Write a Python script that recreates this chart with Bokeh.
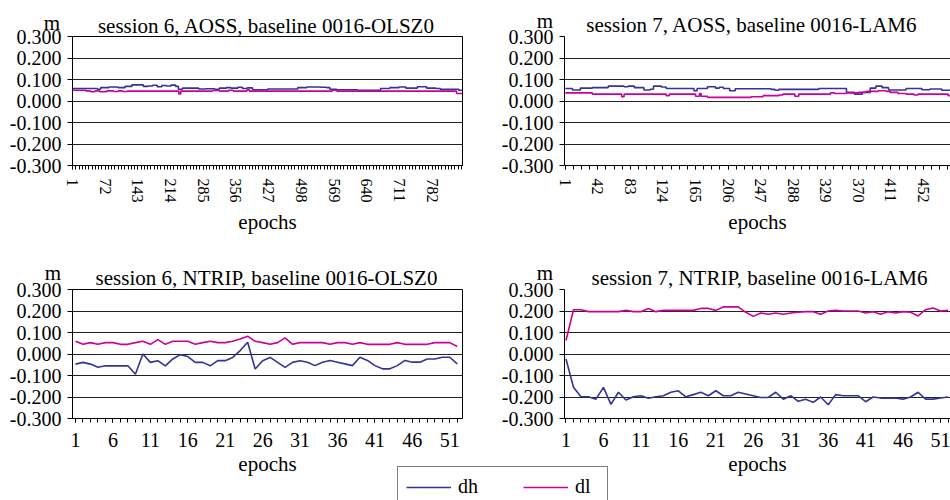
from bokeh.plotting import figure
from bokeh.layouts import column, row
from bokeh.models import (FixedTicker, NumeralTickFormatter, Range1d, Label,
                          Legend, LegendItem)
from bokeh.embed import file_html
from bokeh.resources import INLINE

# ---------------- data ----------------
Y_TICKS = [-0.3, -0.2, -0.1, 0.0, 0.1, 0.2, 0.3]

# session 6, AOSS, baseline 0016-OLSZ0
TL_TICKS = [1, 72, 143, 214, 285, 356, 427, 498, 569, 640, 711, 782]
TL_DH_EPOCH = [1, 30, 55, 62, 80, 100, 115, 130, 150, 155, 165, 175, 185, 195, 205, 215, 225, 231, 240, 250,
               270, 275, 290, 310, 320, 335, 345, 360, 370, 380, 392, 420, 425, 460, 490, 510, 540, 553, 560, 575,
               620, 660, 670, 690, 710, 725, 740, 750, 765, 770, 790, 800, 830, 840, 848]
TL_DH = [0.058, 0.058, 0.055, 0.062, 0.065, 0.062, 0.068, 0.075, 0.075, 0.068, 0.070, 0.073, 0.066, 0.072, 0.070,
         0.074, 0.068, 0.055, 0.060, 0.060, 0.060, 0.056, 0.057, 0.055, 0.060, 0.062, 0.060, 0.064, 0.058, 0.061,
         0.052, 0.052, 0.056, 0.056, 0.062, 0.065, 0.064, 0.062, 0.055, 0.052, 0.050, 0.050, 0.058, 0.062, 0.065,
         0.060, 0.060, 0.066, 0.066, 0.060, 0.058, 0.054, 0.055, 0.050, 0.050]
TL_DL_EPOCH = [1, 20, 30, 40, 50, 60, 75, 90, 100, 110, 120, 230, 232, 236, 300, 305, 320, 340, 350, 380, 385,
               560, 565, 575, 830, 835, 848]
TL_DL = [0.050, 0.050, 0.047, 0.043, 0.047, 0.043, 0.047, 0.044, 0.047, 0.044, 0.046, 0.046, 0.033, 0.046, 0.046,
         0.049, 0.046, 0.050, 0.046, 0.052, 0.046, 0.046, 0.050, 0.046, 0.046, 0.035, 0.035]

# session 7, AOSS, baseline 0016-LAM6
TR_TICKS = [1, 42, 83, 124, 165, 206, 247, 288, 329, 370, 411, 452]
TR_DH_EPOCH = [1, 10, 20, 35, 55, 75, 80, 88, 100, 108, 112, 122, 128, 160, 163, 167, 180, 190, 195, 200,
               208, 215, 260, 265, 270, 320, 350, 355, 365, 375, 385, 392, 400, 408, 420, 430, 450, 460, 475, 486]
TR_DH = [0.058, 0.051, 0.060, 0.062, 0.069, 0.066, 0.069, 0.062, 0.051, 0.055, 0.069, 0.065, 0.058, 0.058, 0.048,
         0.058, 0.066, 0.060, 0.064, 0.058, 0.048, 0.057, 0.054, 0.050, 0.054, 0.058, 0.058, 0.040, 0.032, 0.040,
         0.060, 0.069, 0.062, 0.051, 0.051, 0.058, 0.052, 0.056, 0.050, 0.048]
TR_DL_EPOCH = [1, 35, 70, 72, 75, 125, 128, 132, 160, 165, 170, 172, 180, 230, 235, 250, 270, 275, 288, 290,
               295, 330, 335, 340, 355, 370, 380, 395, 405, 410, 420, 430, 440, 445, 480, 483, 486]
TR_DL = [0.038, 0.032, 0.032, 0.020, 0.032, 0.032, 0.025, 0.032, 0.032, 0.022, 0.035, 0.022, 0.017, 0.017, 0.020,
         0.025, 0.028, 0.032, 0.032, 0.022, 0.032, 0.032, 0.038, 0.035, 0.038, 0.040, 0.045, 0.048, 0.045, 0.040,
         0.035, 0.032, 0.028, 0.032, 0.032, 0.025, 0.030]

# NTRIP sessions (one value per epoch)
B_TICKS = [1, 6, 11, 16, 21, 26, 31, 36, 41, 46, 51]
BL_EPOCH = list(range(1, 53))
BL_DH = [-0.047, -0.039, -0.047, -0.062, -0.055, -0.055, -0.055, -0.055, -0.094, 0.000,
         -0.039, -0.031, -0.055, -0.023, -0.003, -0.012, -0.039, -0.039, -0.055, -0.031,
         -0.031, -0.016, 0.016, 0.055, -0.070, -0.031, -0.016, -0.039, -0.062, -0.039,
         -0.031, -0.038, -0.054, -0.038, -0.030, -0.038, -0.046, -0.054, -0.015, -0.030,
         -0.054, -0.069, -0.069, -0.054, -0.030, -0.038, -0.038, -0.023, -0.023, -0.015,
         -0.015, -0.046]
BL_DL = [0.059, 0.045, 0.053, 0.045, 0.053, 0.053, 0.045, 0.045, 0.053, 0.059,
         0.045, 0.067, 0.045, 0.059, 0.059, 0.059, 0.045, 0.053, 0.059, 0.053,
         0.053, 0.059, 0.070, 0.083, 0.059, 0.053, 0.045, 0.053, 0.075, 0.045,
         0.053, 0.053, 0.053, 0.053, 0.045, 0.053, 0.053, 0.045, 0.053, 0.045,
         0.045, 0.045, 0.045, 0.053, 0.045, 0.045, 0.045, 0.045, 0.053, 0.053,
         0.053, 0.035]
BR_EPOCH = list(range(1, 53))
BR_DH = [-0.023, -0.155, -0.199, -0.199, -0.210, -0.155, -0.234, -0.178, -0.214, -0.199,
         -0.194, -0.206, -0.199, -0.194, -0.178, -0.171, -0.199, -0.189, -0.178, -0.194,
         -0.171, -0.194, -0.194, -0.178, -0.186, -0.194, -0.202, -0.202, -0.178, -0.210,
         -0.194, -0.220, -0.210, -0.225, -0.200, -0.236, -0.189, -0.194, -0.194, -0.194,
         -0.222, -0.200, -0.205, -0.205, -0.205, -0.210, -0.200, -0.178, -0.210, -0.210,
         -0.205, -0.200]
BR_DL = [0.063, 0.206, 0.206, 0.197, 0.197, 0.197, 0.197, 0.197, 0.203, 0.197,
         0.197, 0.212, 0.197, 0.203, 0.203, 0.203, 0.203, 0.203, 0.212, 0.212,
         0.203, 0.219, 0.219, 0.219, 0.194, 0.175, 0.191, 0.185, 0.191, 0.185,
         0.191, 0.194, 0.197, 0.197, 0.185, 0.200, 0.203, 0.200, 0.200, 0.200,
         0.191, 0.197, 0.185, 0.197, 0.191, 0.197, 0.194, 0.177, 0.206, 0.214,
         0.200, 0.203]

# ---------------- styling ----------------
FONT = "Liberation Serif"
BLUE = "#333399"
MAGENTA = "#CC0099"
PAGE_W, PAGE_H = 950, 500


def minor_ticks(start, step, stop):
    out, v = [], start
    while v <= stop:
        out.append(v)
        v += step
    return out


# frame positions are in page pixels (the layout sits at the page's top-left corner)
PANELS = [
    dict(title="session 6, AOSS, baseline 0016-OLSZ0", ox=0, oy=0, w=490, h=246,
         fl=72, fr=462, ft=34, fb=165, xr=(1, 848), ticks=TL_TICKS, minor=minor_ticks(1, 7.1, 848),
         rotated=True, box=True, step=True, title_x=266, title_y=25, m_x=51.5, m_y=22,
         dh=(TL_DH_EPOCH, TL_DH), dl=(TL_DL_EPOCH, TL_DL)),
    dict(title="session 7, AOSS, baseline 0016-LAM6", ox=490, oy=0, w=460, h=246,
         fl=564, fr=950, ft=36, fb=165, xr=(0, 486), ticks=TR_TICKS, minor=minor_ticks(1, 10.25, 486),
         rotated=True, box=False, step=True, title_x=751.5, title_y=24, m_x=544.5, m_y=20,
         dh=(TR_DH_EPOCH, TR_DH), dl=(TR_DL_EPOCH, TR_DL)),
    dict(title="session 6, NTRIP, baseline 0016-OLSZ0", ox=0, oy=246, w=490, h=254,
         fl=72, fr=462, ft=289, fb=418, xr=(0.6, 52.7), ticks=B_TICKS, minor=minor_ticks(1, 1, 53),
         rotated=False, box=True, step=False, title_x=266, title_y=277, m_x=52.5, m_y=272,
         dh=(BL_EPOCH, BL_DH), dl=(BL_EPOCH, BL_DL)),
    dict(title="session 7, NTRIP, baseline 0016-LAM6", ox=490, oy=246, w=460, h=254,
         fl=564, fr=950, ft=289, fb=418, xr=(0.8, 52.33), ticks=B_TICKS, minor=minor_ticks(1, 1, 53),
         rotated=False, box=False, step=False, title_x=759, title_y=277, m_x=544.5, m_y=272,
         dh=(BR_EPOCH, BR_DH), dl=(BR_EPOCH, BR_DL)),
]


def make_panel(s):
    w, h = s["w"], s["h"]
    p = figure(width=w, height=h, x_range=Range1d(*s["xr"]), y_range=Range1d(-0.3, 0.3),
               output_backend="svg", toolbar_location=None, title=None,
               min_border_left=s["fl"] - s["ox"], min_border_right=s["ox"] + w - s["fr"],
               min_border_top=s["ft"] - s["oy"], min_border_bottom=s["oy"] + h - s["fb"])
    p.background_fill_color = "white"
    p.border_fill_color = "white"
    p.outline_line_color = "black" if s["box"] else None
    p.outline_line_width = 1

    p.xgrid.visible = False
    p.ygrid.ticker = FixedTicker(ticks=Y_TICKS)
    p.ygrid.grid_line_color = "#222222"
    p.ygrid.grid_line_width = 1

    ya = p.yaxis[0]
    ya.ticker = FixedTicker(ticks=Y_TICKS)
    ya.formatter = NumeralTickFormatter(format="0.000")
    ya.major_label_text_font = FONT
    ya.major_label_text_font_size = "20px"
    ya.major_label_text_color = "black"
    ya.major_label_standoff = 6
    ya.major_tick_out = 5
    ya.major_tick_in = 0
    ya.minor_tick_out = 0
    ya.minor_tick_in = 0
    ya.axis_line_color = "black"
    ya.major_tick_line_color = "black"

    xa = p.xaxis[0]
    xa.ticker = FixedTicker(ticks=s["ticks"], minor_ticks=s["minor"])
    xa.major_label_text_font = FONT
    xa.major_label_text_color = "black"
    if s["rotated"]:
        xa.major_label_orientation = "vertical"
        xa.major_label_text_font_size = "16px"
        xa.major_label_standoff = 9
        xa.axis_label_standoff = 4
    else:
        xa.major_label_text_font_size = "20px"
        xa.major_label_standoff = 10
        xa.axis_label_standoff = 2
    xa.major_tick_out = 4
    xa.major_tick_in = 0
    xa.minor_tick_out = 4
    xa.minor_tick_in = 0
    xa.axis_line_color = "black"
    xa.major_tick_line_color = "black"
    xa.minor_tick_line_color = "black"
    xa.axis_label = "epochs"
    xa.axis_label_text_font = FONT
    xa.axis_label_text_font_size = "21px"
    xa.axis_label_text_font_style = "normal"
    xa.axis_label_text_color = "black"

    dx, dy = s["dh"]
    lx, ly = s["dl"]
    if s["step"]:
        p.step(dx, dy, mode="after", line_color=BLUE, line_width=1.6)
        p.step(lx, ly, mode="after", line_color=MAGENTA, line_width=1.6)
    else:
        p.line(dx, dy, line_color=BLUE, line_width=1.6)
        p.line(lx, ly, line_color=MAGENTA, line_width=1.6)
    return p


figs = [make_panel(s) for s in PANELS]

# transparent overlay in page pixel coordinates: panel titles, unit labels, legend
ov = figure(width=PAGE_W, height=PAGE_H, x_range=Range1d(0, PAGE_W), y_range=Range1d(PAGE_H, 0),
            output_backend="svg", toolbar_location=None, title=None,
            x_axis_location=None, y_axis_location=None, min_border=0,
            styles={"margin-top": "-%dpx" % PAGE_H})
ov.background_fill_color = None
ov.border_fill_color = None
ov.outline_line_color = None
ov.grid.visible = False
for s in PANELS:
    ov.add_layout(Label(x=s["title_x"], y=s["title_y"], text=s["title"],
                        text_font=FONT, text_font_size="21px", text_color="black",
                        text_align="center", text_baseline="alphabetic"))
    ov.add_layout(Label(x=s["m_x"], y=s["m_y"], text="m",
                        text_font=FONT, text_font_size="21px", text_color="black",
                        text_align="center", text_baseline="alphabetic"))

r_dh = ov.line([-50, -40], [-50, -40], line_color=BLUE, line_width=1.6)
r_dl = ov.line([-50, -40], [-50, -40], line_color=MAGENTA, line_width=1.6)
legend = Legend(items=[LegendItem(label="dh", renderers=[r_dh]),
                       LegendItem(label="dl", renderers=[r_dl])],
                orientation="horizontal", location=(397, -7),
                label_text_font=FONT, label_text_font_size="20px", label_text_color="black",
                glyph_width=45, glyph_height=20, label_standoff=7, label_width=24, label_height=20,
                spacing=41, padding=8, margin=0,
                border_line_color="black", border_line_width=1,
                background_fill_color="white", background_fill_alpha=1.0)
ov.add_layout(legend)

layout = column(row(figs[0], figs[1]), row(figs[2], figs[3]), ov)

open("out.html", "w").write(file_html(layout, INLINE))
